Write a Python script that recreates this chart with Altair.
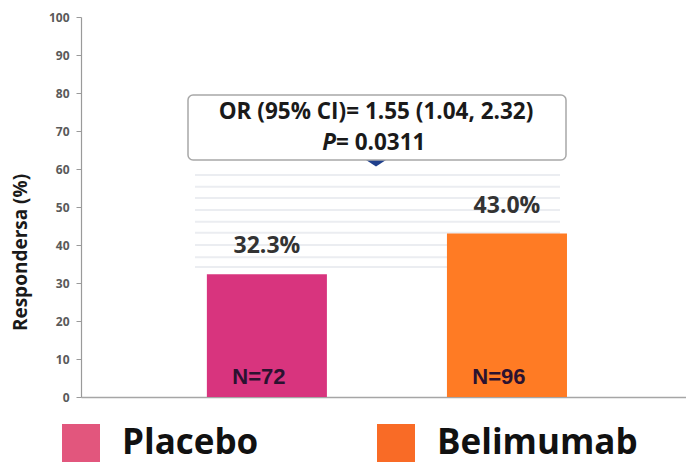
import altair as alt
import pandas as pd

# Response rates by treatment arm
groups = ["Placebo", "Belimumab"]
rates = [32.3, 43.0]
counts = [72, 96]
bar_colors = ["#D8347E", "#FF7B24"]
legend_colors = ["#E2567D", "#F96B26"]

# Odds-ratio annotation
or_text = "OR (95% CI)= 1.55 (1.04, 2.32)"
p_symbol = "P"
p_text = "= 0.0311"

# Faint hatch lines under the annotation callout (response %)
stripe_levels = [58.4, 55.3, 52.4, 49.2, 46.1, 43.2, 40.0, 36.8, 34.2]

FONT = "Open Sans"

df = pd.DataFrame({
    "group": groups,
    "rate": rates,
    "base": [0] * len(groups),
    "pct": [f"{r:.1f}%" for r in rates],
    "n": [f"N={c}" for c in counts],
})
stripes = pd.DataFrame({"level": stripe_levels})
note = pd.DataFrame({"or": [or_text], "p": [p_symbol], "pv": [p_text]})

y_axis = alt.Axis(
    values=list(range(0, 101, 10)),
    title="Respondersa (%)",
    grid=False,
    domainColor="#9A9A9A",
    domainWidth=1.2,
    tickColor="#9A9A9A",
    tickSize=5,
    labelFont=FONT,
    labelFontSize=12,
    labelFontWeight="bold",
    labelColor="#5A5A5A",
    labelPadding=7,
    titleFont=FONT,
    titleFontSize=19,
    titleFontWeight="bold",
    titleColor="#1A1A1A",
    titleX=-61,
    titleY=235,
    titleAngle=270,
    titleBaseline="middle",
    titleAlign="center",
)
y_scale = alt.Scale(domain=[0, 100], nice=False)


def Y(field):
    return alt.Y(f"{field}:Q", scale=y_scale, axis=y_axis)


X = alt.X(
    "group:N",
    sort=groups,
    scale=alt.Scale(domain=groups, paddingInner=0.5, paddingOuter=0.51, align=0.514),
    axis=alt.Axis(labels=False, ticks=False, title=None,
                  domainColor="#A6A6A6", domainWidth=1.5),
)

base = alt.Chart(df)

stripe_layer = alt.Chart(stripes).mark_rule(color="#EBEDF1", strokeWidth=2).encode(
    y=Y("level"), x=alt.value(114), x2=alt.value(479)
)

bars = base.mark_bar().encode(
    x=X,
    y=Y("rate"),
    color=alt.Color("group:N", scale=alt.Scale(domain=groups, range=bar_colors), legend=None),
)

legend_layer = base.mark_square(opacity=0).encode(
    x=X,
    y=Y("base"),
    color=alt.Color(
        "group:N",
        scale=alt.Scale(domain=groups, range=legend_colors),
        legend=alt.Legend(
            orient="none",
            legendX=-19,
            legendY=407,
            direction="horizontal",
            title=None,
            symbolType="square",
            symbolSize=1444,
            symbolOpacity=1,
            symbolStrokeWidth=0,
            labelFont=FONT,
            labelFontSize=35,
            labelFontWeight="bold",
            labelColor="#111111",
            labelOffset=22,
            columnPadding=118,
            padding=0,
            labelLimit=400,
        ),
    ),
)

pct_labels = base.mark_text(
    dy=-28, font=FONT, fontSize=23, fontWeight="bold", color="#333333", baseline="middle"
).encode(x=X, y=Y("rate"), text="pct:N")

n_labels = base.mark_text(
    dx=-8, dy=-20, font="Liberation Sans", fontSize=22, fontWeight="bold",
    color="#2B1230", baseline="middle"
).encode(x=X, y=Y("base"), text="n:N")

note_base = alt.Chart(note)
pointer = note_base.mark_point(
    shape="M-1,-0.2L1,-0.2L0,0.45Z", filled=True, color="#1F3F8C", opacity=1,
    size=400, strokeWidth=0
).encode(x=alt.value(295), y=alt.value(145))

box = note_base.mark_rect(
    fill="white", stroke="#A8A8A8", strokeWidth=1.5, cornerRadius=5
).encode(x=alt.value(107), x2=alt.value(485), y=alt.value(78), y2=alt.value(143))

or_label = note_base.mark_text(
    font=FONT, fontSize=22.5, fontWeight="bold", color="#1A1A1A", baseline="middle"
).encode(x=alt.value(295), y=alt.value(95), text="or:N")

p_label = note_base.mark_text(
    font=FONT, fontSize=22.5, fontWeight="bold", fontStyle="italic", color="#1A1A1A",
    baseline="middle", align="right"
).encode(x=alt.value(255), y=alt.value(126), text="p:N")

pv_label = note_base.mark_text(
    font=FONT, fontSize=22.5, fontWeight="bold", color="#1A1A1A",
    baseline="middle", align="left"
).encode(x=alt.value(255), y=alt.value(126), text="pv:N")

chart = (
    alt.layer(stripe_layer, bars, legend_layer, pct_labels, n_labels,
              pointer, box, or_label, p_label, pv_label)
    .resolve_scale(color="independent")
    .properties(
        width=605,
        height=380,
        autosize=alt.AutoSizeParams(type="none"),
        padding={"left": 81, "top": 17, "right": 0, "bottom": 67},
        background="white",
    )
    .configure_view(stroke=None)
)

chart.save("out.html", embed_options={"renderer": "svg", "actions": False})
